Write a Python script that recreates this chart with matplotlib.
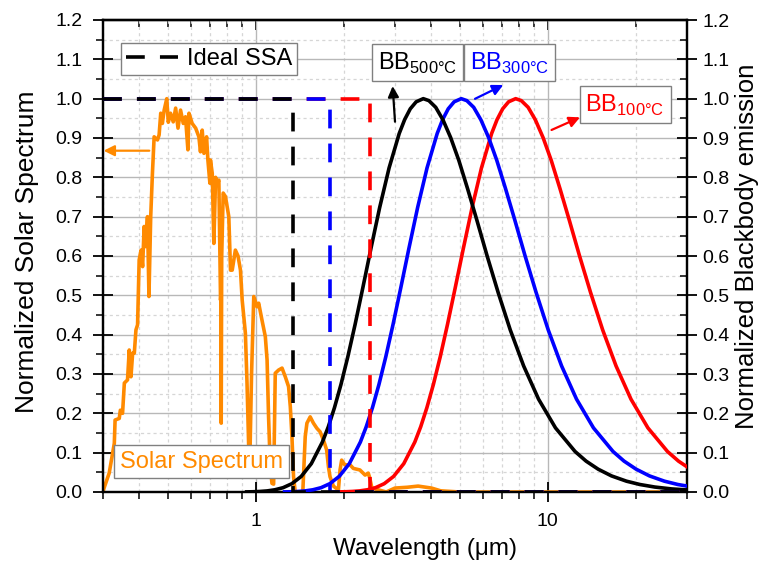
import matplotlib
matplotlib.use("Agg")
import matplotlib.pyplot as plt
from matplotlib.ticker import (LogLocator, FixedLocator, MultipleLocator,
                               NullFormatter, FixedFormatter, FormatStrFormatter)
from matplotlib.lines import Line2D

plt.rcParams['font.family'] = ['Liberation Sans', 'DejaVu Sans']
plt.rcParams['mathtext.fontset'] = 'custom'
plt.rcParams['mathtext.rm'] = 'Liberation Sans'

# ---------------- data ----------------
# normalized solar spectrum (AM1.5-like), wavelength in micrometres
solar_wl = [0.300, 0.3025, 0.315, 0.328, 0.330, 0.341, 0.344, 0.350, 0.355, 0.364,
            0.369, 0.374, 0.379, 0.384, 0.389, 0.394, 0.399, 0.405, 0.410, 0.415,
            0.420, 0.426, 0.431, 0.437, 0.443, 0.449, 0.461, 0.467, 0.473, 0.479,
            0.486, 0.496, 0.502, 0.511, 0.522, 0.532, 0.542, 0.553, 0.565, 0.575,
            0.586, 0.591, 0.606, 0.623, 0.639, 0.647, 0.656, 0.665, 0.679, 0.686,
            0.697, 0.700, 0.710, 0.719, 0.729, 0.739, 0.748, 0.758, 0.760, 0.762,
            0.765, 0.774, 0.788, 0.809, 0.820, 0.831, 0.852, 0.870, 0.887, 0.899,
            0.922, 0.934, 0.947, 0.955, 0.968, 0.985, 1.011, 1.024, 1.051, 1.079,
            1.094, 1.107, 1.122, 1.137, 1.152, 1.167, 1.198, 1.231, 1.263, 1.296,
            1.314, 1.331, 1.348, 1.366, 1.450, 1.478, 1.498, 1.537, 1.577, 1.620,
            1.662, 1.707, 1.750, 1.775, 1.797, 1.846, 1.920, 1.945, 1.970, 2.020,
            2.105, 2.160, 2.275, 2.370, 2.430, 2.460, 2.500, 2.800, 3.000, 3.300,
            3.600, 4.000, 4.300, 5.000, 30.0]
solar_val = [0.000, 0.010, 0.048, 0.124, 0.183, 0.187, 0.208, 0.200, 0.277, 0.285,
             0.361, 0.293, 0.353, 0.353, 0.412, 0.425, 0.590, 0.615, 0.573, 0.675,
             0.624, 0.700, 0.497, 0.700, 0.810, 0.903, 0.895, 0.908, 0.963, 0.937,
             0.971, 1.000, 0.940, 0.963, 0.941, 0.976, 0.925, 0.971, 0.937, 0.954,
             0.870, 0.963, 0.937, 0.925, 0.903, 0.865, 0.920, 0.861, 0.903, 0.844,
             0.785, 0.844, 0.810, 0.632, 0.800, 0.785, 0.793, 0.488, 0.500, 0.175,
             0.600, 0.760, 0.751, 0.700, 0.564, 0.564, 0.615, 0.600, 0.564, 0.488,
             0.404, 0.277, 0.107, 0.080, 0.300, 0.497, 0.471, 0.480, 0.437, 0.395,
             0.336, 0.191, 0.064, 0.022, 0.020, 0.302, 0.310, 0.315, 0.293, 0.268,
             0.217, 0.141, 0.039, 0.000, 0.000, 0.141, 0.175, 0.191, 0.175, 0.162,
             0.153, 0.132, 0.107, 0.064, 0.039, 0.015, 0.005, 0.056, 0.081, 0.069,
             0.069, 0.060, 0.056, 0.043, 0.048, 0.035, 0.010, 0.000, 0.010, 0.012,
             0.015, 0.010, 0.003, 0.000, 0.000]

# normalized blackbody emission (same shape for each temperature, shifted in wavelength)
bb_val = [0.0003, 0.00065, 0.0014, 0.00277, 0.0056, 0.01096, 0.0211, 0.0396, 0.0721,
          0.1269, 0.1658, 0.2142, 0.2732, 0.3438, 0.4259, 0.5187, 0.6194, 0.7236,
          0.8242, 0.9116, 0.9467, 0.9742, 0.992, 1.000, 0.995, 0.978, 0.946, 0.901,
          0.843, 0.771, 0.690, 0.600, 0.507, 0.412, 0.3205, 0.236, 0.163, 0.103,
          0.0785, 0.058, 0.0409, 0.0275, 0.0191, 0.0126, 0.0078, 0.0045]
bb500_wl = [0.931, 0.980, 1.034, 1.095, 1.163, 1.241, 1.330, 1.432, 1.551, 1.692,
            1.773, 1.861, 1.959, 2.068, 2.190, 2.327, 2.482, 2.659, 2.864, 3.102,
            3.237, 3.384, 3.545, 3.749, 3.919, 4.136, 4.380, 4.653, 4.963, 5.318,
            5.727, 6.204, 6.768, 7.445, 8.273, 9.307, 10.636, 12.409, 13.537, 14.890,
            16.545, 18.613, 20.681, 23.27, 26.59, 31.02]
bb300_wl = [1.256, 1.322, 1.395, 1.477, 1.569, 1.674, 1.794, 1.932, 2.093, 2.283,
            2.391, 2.511, 2.643, 2.790, 2.954, 3.139, 3.348, 3.587, 3.863, 4.185,
            4.367, 4.565, 4.783, 5.057, 5.286, 5.580, 5.908, 6.278, 6.696, 7.174,
            7.726, 8.370, 9.131, 10.044, 11.160, 12.555, 14.349, 16.740, 18.262,
            20.088, 22.320, 25.110, 27.900, 31.39]
bb100_wl = [1.929, 2.030, 2.143, 2.269, 2.411, 2.572, 2.755, 2.967, 3.215, 3.507,
            3.674, 3.857, 4.060, 4.286, 4.538, 4.822, 5.143, 5.511, 5.934, 6.429,
            6.708, 7.013, 7.347, 7.769, 8.121, 8.572, 9.076, 9.644, 10.286, 11.021,
            11.869, 12.858, 14.027, 15.430, 17.144, 19.287, 22.042, 25.716, 28.054,
            30.859, 34.29]

# ideal selective solar absorber: absorptance 1 below the cut-off, 0 above
ssa_cutoff = {'500': 1.34, '300': 1.79, '100': 2.46}
ssa_levels = [1.0, 1.0, 0.0, 0.0]

x_range = (0.3, 30)
y_range = (0.0, 1.2)
y_ticks = [0.0, 0.1, 0.2, 0.3, 0.4, 0.5, 0.6, 0.7, 0.8, 0.9, 1.0, 1.1, 1.2]
x_ticks = [1, 10]
x_ticklabels = ['1', '10']

ORANGE = '#FF8A00'
BLUE = '#0000FF'
RED = '#FF0000'
BLACK = '#000000'
LW = 2.6

# ---------------- figure ----------------
W, H = 764, 562
fig = plt.figure(figsize=(W / 100, H / 100), dpi=100)
L, R, T, B = 103, 687, 20, 492
ax = fig.add_axes([L / W, (H - B) / H, (R - L) / W, (B - T) / H])

ax.set_xscale('log')
ax.set_xlim(*x_range)
ax.set_ylim(*y_range)

ax.plot(solar_wl, solar_val, color=ORANGE, lw=LW, solid_joinstyle='round', zorder=2)

ax.xaxis.set_major_locator(FixedLocator(x_ticks))
ax.xaxis.set_major_formatter(FixedFormatter(x_ticklabels))
ax.xaxis.set_minor_locator(LogLocator(base=10, subs=(2, 3, 4, 5, 6, 7, 8, 9)))
ax.xaxis.set_minor_formatter(NullFormatter())
ax.yaxis.set_major_locator(FixedLocator(y_ticks))
ax.yaxis.set_major_formatter(FormatStrFormatter('%.1f'))
ax.yaxis.set_minor_locator(MultipleLocator(0.05))

ax.grid(which='major', color='#b8b8b8', lw=1.0, ls='-')
ax.grid(which='minor', color='#d6d6d6', lw=0.9, ls=(0, (2.5, 2.5)))
ax.set_axisbelow(True)

ax.tick_params(axis='both', which='major', direction='inout', length=14, width=1.3,
               labelsize=14, color='black')
ax.tick_params(axis='both', which='minor', direction='out', length=5, width=1.1)
ax.tick_params(axis='x', which='major', pad=8)
ax.tick_params(axis='y', which='major', pad=8)

# top axis: ticks only, pointing inwards
top = ax.secondary_xaxis('top')
top.xaxis.set_major_locator(FixedLocator(x_ticks))
top.xaxis.set_minor_locator(LogLocator(base=10, subs=(2, 3, 4, 5, 6, 7, 8, 9)))
top.xaxis.set_major_formatter(NullFormatter())
top.xaxis.set_minor_formatter(NullFormatter())
top.tick_params(which='major', direction='in', length=7, width=1.3)
top.tick_params(which='minor', direction='in', length=5, width=1.1)
top.spines['top'].set_linewidth(1.6)

ax.set_xlabel('Wavelength (\u03bcm)', fontsize=17.5)
ax.set_ylabel('Normalized Solar Spectrum', fontsize=19)
ax.xaxis.set_label_coords(0.551, -0.097)
ax.yaxis.set_label_coords(-0.109, 0.51)

# right axis: blackbody emission
ax2 = ax.twinx()
ax2.set_ylim(*y_range)
ax2.yaxis.set_major_locator(FixedLocator(y_ticks))
ax2.yaxis.set_major_formatter(FormatStrFormatter('%.1f'))
ax2.yaxis.set_minor_locator(MultipleLocator(0.05))
ax2.tick_params(axis='y', which='major', direction='inout', length=14, width=1.3,
                labelsize=14, pad=4)
ax2.tick_params(axis='y', which='minor', direction='in', length=5, width=1.1)
ax2.set_ylabel('Normalized Blackbody emission', fontsize=18.5)
ax2.yaxis.set_label_coords(1.082, 0.52)

for a in (ax, ax2):
    for s in a.spines.values():
        s.set_linewidth(1.6)

ax2.plot(bb100_wl, bb_val[:len(bb100_wl)], color=RED, lw=LW, zorder=3)
ax2.plot(bb300_wl, bb_val[:len(bb300_wl)], color=BLUE, lw=LW, zorder=3)
ax2.plot(bb500_wl, bb_val[:len(bb500_wl)], color=BLACK, lw=LW, zorder=3)

dash = (0, (5.2, 4.2))
for key, col in (('100', RED), ('300', BLUE), ('500', BLACK)):
    c = ssa_cutoff[key]
    ax2.plot([x_range[0], c, c, x_range[1]], ssa_levels,
             color=col, lw=LW, ls=dash, zorder=4)

leg = ax2.legend(handles=[Line2D([], [], color=BLACK, lw=LW, ls=dash)],
                 labels=['Ideal SSA'], loc='upper left',
                 bbox_to_anchor=(0.031, 0.951), borderaxespad=0, fancybox=False,
                 edgecolor='#808080', framealpha=1, fontsize=17,
                 handlelength=2.2, handletextpad=0.4, borderpad=0.2)
leg.get_frame().set_linewidth(1.0)
leg.set_zorder(6)

box = dict(boxstyle='square,pad=0.25', fc='white', ec='#808080', lw=1.0)

def label(x, y, text, color):
    ax2.text(x, y, text, transform=ax2.transAxes, ha='center', va='center',
             fontsize=17, color=color, bbox=box, zorder=6)

label(0.5385, 0.909, r'BB$_{\mathregular{500°C}}$', BLACK)
label(0.696, 0.909, r'BB$_{\mathregular{300°C}}$', BLUE)
label(0.894, 0.820, r'BB$_{\mathregular{100°C}}$', RED)
label(0.1687, 0.0646, 'Solar Spectrum', ORANGE)

def arrow(tail, head, color):
    ax2.annotate('', xy=head, xytext=tail, xycoords='axes fraction',
                 textcoords='axes fraction',
                 arrowprops=dict(arrowstyle='-|>', color=color, lw=1.6,
                                 mutation_scale=16, shrinkA=0, shrinkB=0),
                 zorder=6)

arrow((0.500, 0.7845), (0.496, 0.860), BLACK)
arrow((0.637, 0.833), (0.6854, 0.8623), BLUE)
arrow((0.768, 0.767), (0.8168, 0.7938), RED)
arrow((0.0793, 0.7231), (0.001, 0.7231), ORANGE)

fig.savefig('out.png', dpi=100)
